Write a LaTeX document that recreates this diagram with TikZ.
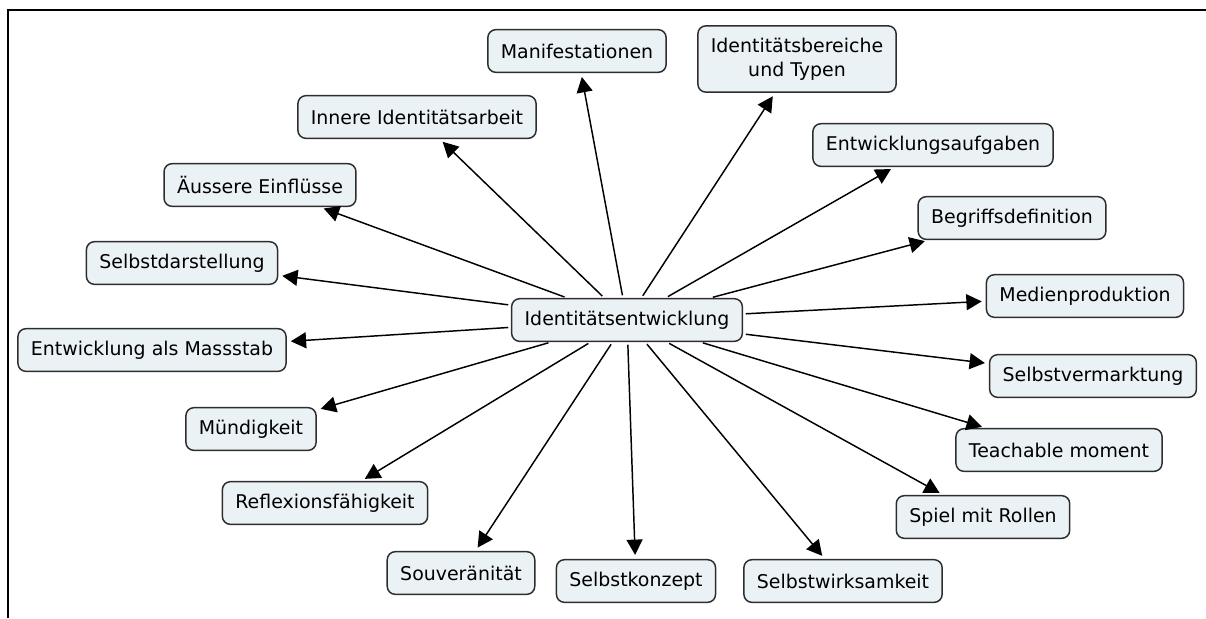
\documentclass[tikz,border=0pt]{standalone}
\usepackage{fontspec}
\setmainfont{DejaVu Sans}
\usetikzlibrary{arrows.meta}
\definecolor{kastenfarbe}{RGB}{235,242,245}
\definecolor{randfarbe}{RGB}{45,45,45}
\begin{document}
\begin{tikzpicture}[x=0.75pt,y=-0.75pt,
    begriff/.style={draw=randfarbe,line width=1.1pt,fill=kastenfarbe,rounded corners=6pt,
        inner xsep=9.75pt,inner ysep=9pt,minimum height=32pt,align=center,
        font=\fontsize{14.2}{18}\selectfont},
    pfeil/.style={line width=1.1pt,-{Triangle[length=11.5pt,width=12pt]},
        shorten >=3pt,shorten <=2pt}]
    \useasboundingbox (0,0) rectangle (1206,618);
    %Rahmen oben und links
    \draw[line width=1.5pt] (8,618) -- (8,10) -- (1206,10);
    %Mittelknoten
    \node[begriff] (ie) at (627,320) {Identitätsentwicklung};
    %obere Knoten
    \node[begriff] (man) at (577,51) {Manifestationen};
    \node[begriff] (ibt) at (797,59) {Identitätsbereiche\\und Typen};
    \node[begriff] (iia) at (417,117) {Innere Identitätsarbeit};
    \node[begriff] (aei) at (260,185) {Äussere Einflüsse};
    \node[begriff] (ewa) at (933,145) {Entwicklungsaufgaben};
    \node[begriff] (bgd) at (1012,218) {Begriffsdefinition};
    %linke Knoten
    \node[begriff] (sdst) at (182,263) {Selbstdarstellung};
    \node[begriff] (eam) at (152,350) {Entwicklung als Massstab};
    \node[begriff] (mdg) at (251,429) {Mündigkeit};
    \node[begriff] (rfx) at (325,503) {Reflexionsfähigkeit};
    %untere Knoten
    \node[begriff] (svt) at (461,573) {Souveränität};
    \node[begriff] (skz) at (636,581) {Selbstkonzept};
    \node[begriff] (swk) at (843,581) {Selbstwirksamkeit};
    %rechte Knoten
    \node[begriff] (mdp) at (1085,296) {Medienproduktion};
    \node[begriff] (svm) at (1093,376) {Selbstvermarktung};
    \node[begriff] (tcm) at (1059,450) {Teachable moment};
    \node[begriff] (smr) at (983,517) {Spiel mit Rollen};
    %Pfeile vom Mittelknoten
    \draw[pfeil] (ie) -- (man);
    \draw[pfeil] (ie) -- (ibt);
    \draw[pfeil] (ie) -- (iia);
    \draw[pfeil] (ie) -- (aei);
    \draw[pfeil] (ie) -- (ewa);
    \draw[pfeil] (ie) -- (bgd);
    \draw[pfeil] (ie) -- (sdst);
    \draw[pfeil] (ie) -- (eam);
    \draw[pfeil] (ie) -- (mdg);
    \draw[pfeil] (ie) -- (rfx);
    \draw[pfeil] (ie) -- (svt);
    \draw[pfeil] (ie) -- (skz);
    \draw[pfeil] (ie) -- (swk);
    \draw[pfeil] (ie) -- (mdp);
    \draw[pfeil] (ie) -- (svm);
    \draw[pfeil] (ie) -- (tcm);
    \draw[pfeil] (ie) -- (smr);
\end{tikzpicture}
\end{document}
